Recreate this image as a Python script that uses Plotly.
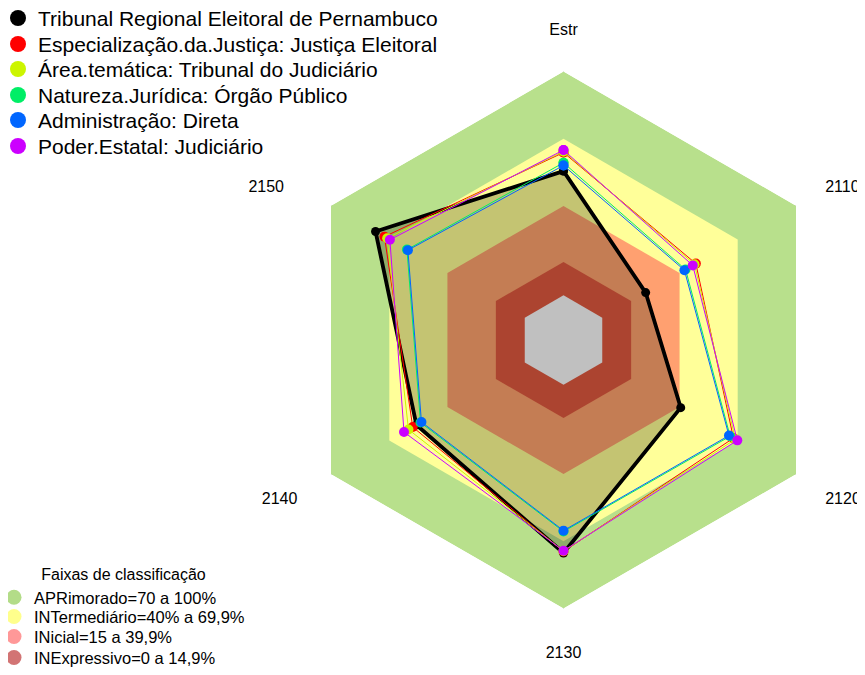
import plotly.graph_objects as go

categories = ["Estr", "2110", "2120", "2130", "2140", "2150"]
tick_labels = ["Estr", "2110", "2120", "2130", "2140\u00a0", "2150\u00a0\u00a0\u00a0\u00a0"]

series_names = [
    "Tribunal Regional Eleitoral de Pernambuco",
    "Especialização.da.Justiça: Justiça Eleitoral",
    "Área.temática: Tribunal do Judiciário",
    "Natureza.Jurídica: Órgão Público",
    "Administração: Direta",
    "Poder.Estatal: Judiciário",
]
tre_pe = [55.5, 22.4, 40.5, 75.2, 55.9, 77.0]
especializacao = [63.8, 48.3, 67.7, 74.5, 57.8, 72.4]
area_tematica = [64.3, 47.6, 68.7, 74.3, 60.0, 71.0]
natureza = [59.2, 43.0, 66.0, 65.6, 53.8, 60.8]
administracao = [58.0, 42.4, 65.4, 65.2, 53.3, 60.3]
poder = [64.9, 46.7, 69.7, 74.2, 62.3, 69.6]
series_values = [tre_pe, especializacao, area_tematica, natureza, administracao, poder]
series_colors = ["#000000", "#ff0000", "#ccf500", "#00ee66", "#0066ff", "#cc00ff"]

band_title = "\u00a0" * 7 + "Faixas de classificação"
band_names = [
    "APRimorado=70 a 100%",
    "INTermediário=40% a 69,9%",
    "INicial=15 a 39,9%",
    "INExpressivo=0 a 14,9%",
]
band_upper = [100, 69.9, 39.9, 14.9]
band_fill = ["#b8e08c", "#ffff99", "#ffa070", "#df5540"]
band_legend_colors = ["#b3dc88", "#ffff8c", "#ff9898", "#d27474"]
center_value = 0
center_color = "#c0c0c0"

OFF = 8  # page body margin offset (screen = figure + OFF)
FIG_W, FIG_H = 865 - OFF, 675 - OFF
ML, MR, MT, MB = 40, 10, 40, 40
PW, PH = FIG_W - ML - MR, FIG_H - MT - MB


def xp(sx):
    return (sx - OFF - ML) / PW


def yp(sy):
    return 1 - (sy - OFF - MT) / PH


theta_closed = categories + [categories[0]]

fig = go.Figure()

for name, up, col in zip(band_names, band_upper, band_fill):
    fig.add_trace(go.Scatterpolar(
        r=[up] * len(theta_closed), theta=theta_closed, mode="lines",
        fill="toself", fillcolor=col, line=dict(width=0, color=col),
        showlegend=False, hoverinfo="skip"))

fig.add_trace(go.Scatterpolar(
    r=tre_pe + [tre_pe[0]], theta=theta_closed, mode="lines+markers",
    fill="toself", fillcolor="rgba(20,20,0,0.25)",
    line=dict(color="#000000", width=3.8),
    marker=dict(size=9, color="#000000"),
    name=series_names[0], showlegend=False))

fig.add_trace(go.Scatterpolar(
    r=[center_value] * len(theta_closed), theta=theta_closed, mode="lines",
    fill="toself", fillcolor=center_color, line=dict(width=0, color=center_color),
    showlegend=False, hoverinfo="skip"))

for name, vals, col in zip(series_names[1:], series_values[1:], series_colors[1:]):
    fig.add_trace(go.Scatterpolar(
        r=vals + [vals[0]], theta=theta_closed, mode="lines+markers",
        line=dict(color=col, width=1),
        marker=dict(size=10, color=col),
        name=name, showlegend=False))

layout_legends = {}
series_legend_y = [18, 44, 69, 95, 120, 146]
S_FONT = 21
s_half = (1.3 * S_FONT + 3) / 2 + 5
for i, (name, col) in enumerate(zip(series_names, series_colors)):
    key = "legend" if i == 0 else f"legend{i + 1}"
    fig.add_trace(go.Scatterpolar(
        r=[None], theta=[categories[0]], mode="markers",
        marker=dict(size=18, color=col), name=name, legend=key))
    layout_legends[key] = dict(
        x=xp(18 - 20), y=yp(series_legend_y[i] - s_half),
        xanchor="left", yanchor="top",
        font=dict(size=S_FONT), bgcolor="rgba(0,0,0,0)", itemsizing="trace")

band_legend_y = [598, 617, 637, 658]
B_FONT = 16.5
b_half = (1.3 * B_FONT + 3) / 2 + 5
for j, (name, col) in enumerate(zip(band_names, band_legend_colors)):
    key = f"legend{7 + j}"
    fig.add_trace(go.Scatterpolar(
        r=[None], theta=[categories[0]], mode="markers",
        marker=dict(size=15, color=col), name=name, legend=key))
    spec = dict(
        x=xp(14 - 20), y=yp(band_legend_y[j] + b_half),
        xanchor="left", yanchor="bottom",
        font=dict(size=B_FONT), bgcolor="rgba(0,0,0,0)", itemsizing="trace")
    if j == 0:
        spec["title"] = dict(text=band_title, side="top center", font=dict(size=16))
    layout_legends[key] = spec

cx, cy, rad = 563.5, 340, 268.5
fig.update_layout(
    width=FIG_W, height=FIG_H,
    margin=dict(l=ML, r=MR, t=MT, b=MB, autoexpand=False),
    paper_bgcolor="white",
    font=dict(family="Liberation Sans, Arial, sans-serif", color="#000000"),
    polar=dict(
        domain=dict(x=[xp(cx - rad - 2), xp(cx + rad + 2)],
                    y=[yp(cy + rad), yp(cy - rad)]),
        bgcolor="rgba(0,0,0,0)",
        gridshape="linear",
        radialaxis=dict(visible=False, range=[-20, 100]),
        angularaxis=dict(
            direction="clockwise", rotation=90,
            tickmode="array", tickvals=categories, ticktext=tick_labels,
            showline=False, ticks="outside", ticklen=30,
            tickcolor="rgba(0,0,0,0)", showgrid=True,
            gridcolor="#c8c8c8", gridwidth=1,
            layer="above traces",
            tickfont=dict(size=16, color="#000000"),
        ),
    ),
    **layout_legends,
)

fig.write_html("out.html", config={"displayModeBar": False})
